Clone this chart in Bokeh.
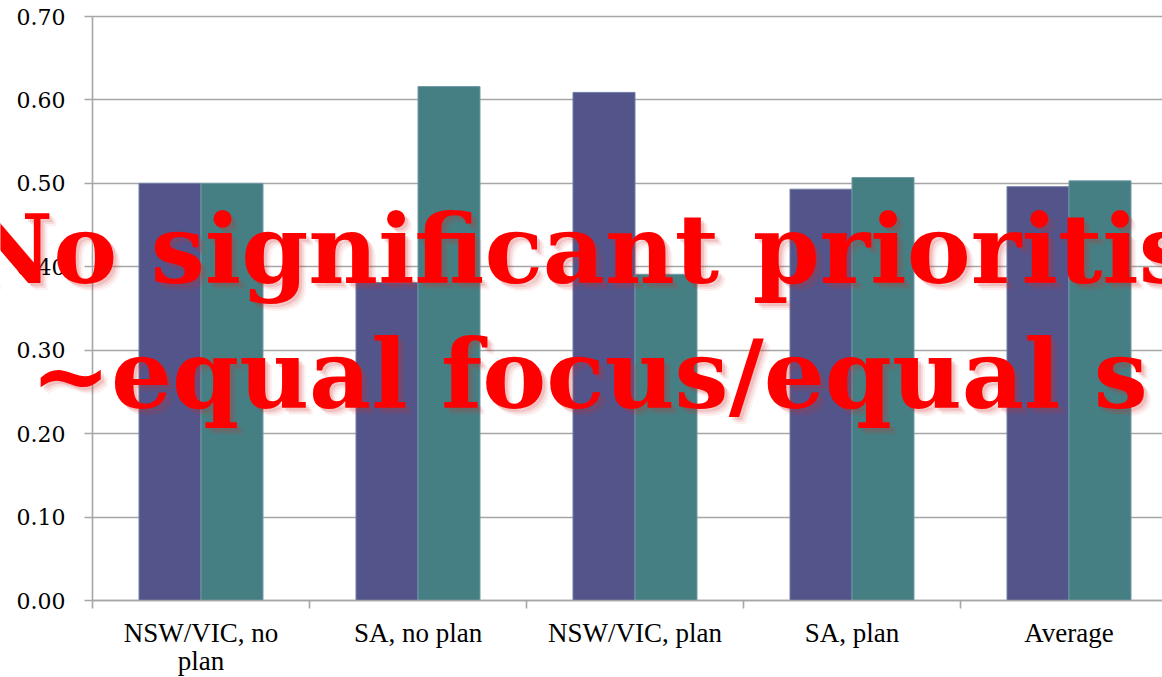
from bokeh.plotting import figure
from bokeh.models import Range1d, FixedTicker, Label, ColumnDataSource, NumeralTickFormatter
from bokeh.embed import file_html
from bokeh.resources import INLINE

# Share of focus per group, two series per category
categories = ["NSW/VIC, no plan", "SA, no plan", "NSW/VIC, plan", "SA, plan", "Average"]
category_labels = ["NSW/VIC, no\nplan", "SA, no plan", "NSW/VIC, plan", "SA, plan", "Average"]
series_a = [0.500, 0.381, 0.609, 0.493, 0.496]
series_b = [0.500, 0.616, 0.391, 0.507, 0.503]
y_ticks = [0.0, 0.1, 0.2, 0.3, 0.4, 0.5, 0.6, 0.7]

headline_1 = "No significant prioritis"
headline_2 = "~equal focus/equal s"

COLOR_A = "#53548A"
COLOR_B = "#457F83"
GRID = "#A6A6A6"
SERIF = "Liberation Serif"

# pixel geometry: the frame fills the canvas, axes are pinned inside it
W, H = 1162, 677
LEFT_PX = 92          # where the value axis sits
CAT_PX = 217          # width of one category
TOP_PX, BOTTOM_PX = 16, 600
Y_MAX = 0.70
PX_PER_UNIT = (BOTTOM_PX - TOP_PX) / Y_MAX

n = len(categories)
bar_w = 2.0 / 7.0
centers = [i + 0.5 for i in range(n)]

src = ColumnDataSource(dict(
    cat=categories,
    xa=[c - bar_w / 2 for c in centers],
    xb=[c + bar_w / 2 for c in centers],
    a=series_a,
    b=series_b,
))

x_range = Range1d(-LEFT_PX / CAT_PX, (W - LEFT_PX) / CAT_PX)
y_range = Range1d(-(H - BOTTOM_PX) / PX_PER_UNIT, Y_MAX + TOP_PX / PX_PER_UNIT)

p = figure(width=W, height=H, output_backend="svg", toolbar_location=None,
           x_range=x_range, y_range=y_range,
           min_border=0)
p.outline_line_color = None
p.background_fill_color = "white"
p.border_fill_color = "white"

p.vbar(x="xa", top="a", width=bar_w, source=src, fill_color=COLOR_A,
       line_color="#6F7FA6", line_width=1)
p.vbar(x="xb", top="b", width=bar_w, source=src, fill_color=COLOR_B,
       line_color="#6F9AA6", line_width=1)

# grid lines start at the value axis
p.xgrid.visible = False
p.ygrid.grid_line_color = GRID
p.ygrid.grid_line_width = 1.6
p.ygrid.ticker = FixedTicker(ticks=y_ticks)
p.ygrid.cross_bounds = (0, 100)
p.ygrid.level = "underlay"

# value axis pinned at x = 0
ya = p.yaxis[0]
ya.fixed_location = 0
ya.bounds = (0, Y_MAX)
ya.ticker = FixedTicker(ticks=y_ticks)
ya.formatter = NumeralTickFormatter(format="0.00")
ya.axis_line_color = GRID
ya.axis_line_width = 1.6
ya.major_tick_line_color = GRID
ya.major_tick_line_width = 1.6
ya.major_tick_out = 8
ya.major_tick_in = 0
ya.minor_tick_line_color = None
ya.major_label_text_font = "DejaVu Serif"
ya.major_label_text_font_size = "22px"
ya.major_label_text_color = "black"
ya.major_label_standoff = 19

# category axis pinned at y = 0: labels at centres, tick marks on boundaries
xa = p.xaxis[0]
xa.fixed_location = 0
xa.bounds = (0, 100)
xa.ticker = FixedTicker(ticks=centers, minor_ticks=list(range(n + 1)))
xa.major_label_overrides = {c: lab for c, lab in zip(centers, category_labels)}
xa.axis_line_color = GRID
xa.axis_line_width = 1.6
xa.major_tick_line_color = None
xa.minor_tick_line_color = GRID
xa.minor_tick_line_width = 1.6
xa.minor_tick_out = 8
xa.minor_tick_in = 0
xa.major_label_text_font = SERIF
xa.major_label_text_font_size = "27px"
xa.major_label_text_line_height = 0.95
xa.major_label_text_color = "black"
xa.major_label_standoff = 9

# headline overlay with a soft drop glow
FS = 96

def px_x(v):
    return (v - LEFT_PX) / CAT_PX

def px_y(v):
    return (BOTTOM_PX - v) / PX_PER_UNIT

lines = [(headline_1, px_x(-35), px_y(281 - 0.333 * FS)),
         (headline_2, px_x(30), px_y(406 - 0.333 * FS))]
for txt, x, y in lines:
    for off, alpha in [(7, 0.07), (5, 0.10), (3, 0.16)]:
        p.add_layout(Label(x=x, y=y, x_offset=off, y_offset=-off, text=txt,
                           text_font="DejaVu Serif", text_font_style="bold",
                           text_font_size=f"{FS}px", text_color="#D03030",
                           text_alpha=alpha, text_baseline="alphabetic"))
    p.add_layout(Label(x=x, y=y, text=txt, text_font="DejaVu Serif",
                       text_font_style="bold", text_font_size=f"{FS}px",
                       text_color="#FF0000", text_baseline="alphabetic"))

open("out.html", "w").write(file_html(p, INLINE))
